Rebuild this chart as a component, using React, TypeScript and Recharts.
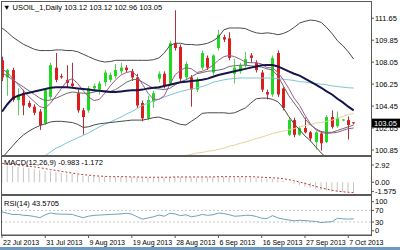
import { ComposedChart, Bar, Line, XAxis, YAxis, ReferenceLine } from "recharts";

// USOIL daily bars, 22 Jul 2013 .. 8 Oct 2013 (MT4 also prints Sunday bars)
const opens = [
  108.2, 106.8, 107.4, 104.95, 105.5, 104.7, 104.4, 104.0, 103.05, 105.2,
  107.6, 106.9, 106.6, 106.3, 105.5, 104.1, 104.1, 105.9, 105.8, 106.4,
  106.6, 106.9, 107.3, 107.6, 107.3, 106.8, 104.7, 103.45, 104.8, 106.7,
  107.1, 106.3, 109.6, 109.3, 106.8, 106.8, 105.8, 107.6, 108.4, 107.2,
  109.2, 110.1, 110.0, 107.1, 107.3, 107.8, 108.6, 108.0, 107.2, 105.6,
  105.4, 108.8, 105.9, 102.1, 103.3, 102.1, 102.65, 102.3, 101.5, 102.2,
  101.5, 103.55, 102.8, 103.3, 103.3, 103.12,
];
const highs = [
  108.5, 107.5, 107.6, 105.9, 105.8, 104.9, 104.6, 104.2, 105.9, 108.0,
  108.8, 107.1, 107.8, 108.0, 105.8, 104.3, 106.1, 106.3, 106.5, 107.4,
  107.2, 107.9, 108.0, 107.8, 107.5, 107.1, 104.9, 105.3, 105.7, 107.3,
  107.3, 109.8, 112.3, 109.5, 108.1, 107.0, 106.8, 109.0, 108.6, 108.7,
  110.7, 110.3, 110.5, 108.3, 108.0, 108.9, 108.8, 108.2, 107.4, 105.8,
  108.6, 109.0, 106.0, 103.5, 103.5, 102.8, 103.5, 102.4, 102.4, 102.4,
  103.7, 104.1, 104.0, 103.4, 103.6, 103.12,
];
const lows = [
  106.5, 105.3, 104.8, 103.7, 103.7, 104.3, 103.7, 102.5, 102.9, 105.0,
  106.4, 106.7, 106.0, 105.9, 103.9, 102.1, 103.9, 105.6, 105.4, 106.1,
  106.4, 106.7, 107.1, 107.2, 106.5, 104.3, 103.2, 103.3, 104.3, 106.4,
  105.9, 106.1, 109.0, 106.5, 106.6, 104.4, 105.6, 107.4, 107.4, 107.0,
  109.0, 109.7, 108.2, 106.3, 107.1, 107.6, 108.0, 107.2, 105.6, 105.0,
  105.2, 105.2, 104.1, 102.0, 101.9, 102.0, 102.2, 101.6, 100.9, 100.8,
  101.4, 102.6, 102.7, 103.2, 101.7, 102.96,
];
const closes = [
  106.8, 107.4, 104.95, 105.3, 104.5, 104.4, 103.9, 102.9, 105.8, 107.8,
  106.6, 106.8, 106.35, 106.1, 104.1, 103.55, 105.9, 106.1, 106.3, 107.2,
  107.0, 107.4, 107.6, 107.4, 106.8, 104.5, 103.45, 104.95, 105.5, 107.1,
  106.1, 109.6, 109.2, 106.7, 107.9, 105.8, 106.6, 108.8, 107.6, 108.6,
  110.3, 109.9, 108.4, 107.6, 107.8, 108.3, 108.4, 107.4, 105.8, 105.4,
  108.4, 105.4, 104.3, 103.3, 102.1, 102.65, 102.3, 101.8, 102.3, 101.4,
  103.55, 102.75, 103.5, 103.35, 102.9, 103.05,
];

const bbUpper = [
  110.85, 110.5, 110.1, 109.8, 109.5, 109.3, 109.1, 109.0, 109.0, 109.0,
  109.05, 109.05, 109.0, 109.0, 108.9, 108.7, 108.5, 108.3, 108.15, 108.06,
  108.1, 108.2, 108.2, 108.2, 108.2, 108.2, 108.2, 108.2, 108.25, 108.4,
  108.8, 109.4, 109.6, 109.6, 109.5, 109.5, 109.45, 109.5, 109.6, 109.8,
  110.1, 110.7, 110.85, 110.85, 110.85, 110.8, 110.6, 110.45, 110.4, 110.45,
  110.4, 110.3, 110.4, 110.6, 110.9, 111.25, 111.4, 111.5, 111.45, 111.3,
  110.9, 110.4, 109.8, 109.4, 108.9, 108.3,
];
const bbLower = [
  100.2, 100.7, 101.2, 101.7, 102.1, 102.4, 102.65, 102.85, 103.0, 103.15,
  103.2, 103.2, 103.15, 103.1, 102.95, 102.7, 102.75, 102.9, 103.0, 103.05,
  103.1, 103.15, 103.2, 103.25, 103.3, 103.3, 103.3, 103.4, 103.5, 103.55,
  103.4, 103.3, 103.1, 102.95, 102.9, 103.2, 103.5, 103.85, 103.9, 103.9,
  103.9, 103.9, 103.85, 103.9, 104.1, 104.3, 104.7, 105.05, 105.1, 105.1,
  105.0, 104.8, 104.3, 103.6, 103.0, 102.5, 102.0, 101.6, 101.1, 100.6,
  100.2, 99.9, 99.7, 99.5, 99.4, 99.3,
];
const maNavy = [
  104.0, 104.6, 105.1, 105.3, 105.45, 105.55, 105.65, 105.75, 105.85, 105.95,
  106.0, 106.0, 106.0, 105.95, 105.9, 105.85, 105.8, 105.75, 105.7, 105.65,
  105.6, 105.6, 105.65, 105.7, 105.75, 105.75, 105.8, 105.9, 105.95, 106.0,
  106.1, 106.2, 106.3, 106.4, 106.45, 106.5, 106.55, 106.6, 106.7, 106.85,
  107.0, 107.1, 107.2, 107.3, 107.4, 107.5, 107.6, 107.7, 107.8, 107.82,
  107.82, 107.7, 107.5, 107.3, 107.1, 106.95, 106.7, 106.45, 106.2, 105.95,
  105.65, 105.4, 105.05, 104.75, 104.4, 104.1,
];
const maTeal = [
  null, null, null, null, null, null, null, null, 100.4, 100.7,
  101.0, 101.2, 101.45, 101.65, 101.85, 102.05, 102.25, 102.5, 102.75, 102.95,
  103.15, 103.35, 103.55, 103.8, 104.0, 104.25, 104.5, 104.7, 104.85, 105.0,
  105.2, 105.35, 105.5, 105.65, 105.75, 105.85, 105.95, 106.05, 106.2, 106.4,
  106.5, 106.6, 106.67, 106.72, 106.75, 106.75, 106.75, 106.75, 106.75, 106.75,
  106.75, 106.7, 106.65, 106.6, 106.55, 106.45, 106.42, 106.35, 106.3, 106.25,
  106.2, 106.1, 106.05, 106.0, 105.95, 105.93,
];
const maTan = [
  null, null, null, null, null, null, null, null, null, null,
  null, null, null, null, null, null, null, null, null, null,
  null, null, null, null, null, null, null, null, null, null,
  null, null, null, 100.25, 100.4, 100.5, 100.6, 100.65, 100.75, 100.8,
  100.9, 101.0, 101.15, 101.25, 101.4, 101.5, 101.65, 101.8, 101.9, 102.05,
  102.2, 102.3, 102.4, 102.5, 102.6, 102.75, 102.85, 102.95, 103.05, 103.1,
  103.2, 103.3, 103.45, 103.6, 103.75, 103.85,
];
const maFast = [
  107.5, 107.2, 106.7, 106.2, 105.7, 105.2, 104.8, 104.4, 104.3, 104.7,
  105.3, 105.9, 106.5, 106.7, 106.3, 105.7, 105.2, 104.9, 105.0, 105.5,
  106.1, 106.6, 107.0, 107.2, 107.3, 106.9, 106.2, 105.5, 105.0, 105.0,
  105.3, 106.2, 107.0, 107.4, 107.6, 107.5, 107.2, 107.3, 107.5, 107.8,
  108.2, 108.5, 108.6, 108.5, 108.3, 108.05, 108.0, 108.0, 107.9, 107.6,
  107.6, 107.2, 106.6, 105.9, 105.1, 104.5, 103.7, 103.0, 102.5, 102.3,
  102.2, 102.25, 102.3, 102.45, 102.6, 102.65,
];
const maMid = [
  107.2, 106.9, 106.6, 106.3, 106.0, 105.7, 105.4, 105.1, 104.9, 104.95,
  105.1, 105.3, 105.5, 105.6, 105.55, 105.5, 105.5, 105.6, 105.7, 105.7,
  105.65, 105.8, 106.1, 106.4, 106.6, 106.65, 106.4, 106.15, 105.9, 105.85,
  105.8, 105.9, 106.2, 106.45, 106.6, 106.85, 107.1, 107.2, 107.3, 107.35,
  107.4, 107.5, 107.7, 107.75, 107.8, 107.8, 107.75, 107.7, 107.65, 107.5,
  107.4, 106.9, 106.1, 105.3, 104.7, 104.1, 103.4, 102.9, 102.6, 102.35,
  102.3, 102.3, 102.45, 102.6, 102.75, 102.9,
];

const macdMain = [
  2.9, 2.85, 2.75, 2.6, 2.5, 2.35, 2.2, 2.05, 1.9, 1.85,
  1.75, 1.6, 1.5, 1.4, 1.25, 1.1, 1.05, 1.0, 0.95, 0.95,
  0.9, 0.9, 0.9, 0.9, 0.85, 0.8, 0.75, 0.75, 0.75, 0.8,
  0.8, 0.85, 0.9, 0.85, 0.85, 0.8, 0.8, 0.85, 0.85, 0.9,
  0.95, 0.95, 0.9, 0.85, 0.85, 0.85, 0.85, 0.8, 0.7, 0.6,
  0.6, 0.45, 0.25, 0.0, -0.25, -0.5, -0.7, -0.9, -1.1, -1.3,
  -1.4, -1.5, -1.55, -1.6, -1.65, -1.7,
];
const macdSignal = [
  3.2, 3.1, 3.0, 2.9, 2.8, 2.7, 2.6, 2.45, 2.3, 2.15,
  2.0, 1.85, 1.7, 1.55, 1.4, 1.3, 1.2, 1.1, 1.05, 1.0,
  0.95, 0.95, 0.95, 0.95, 0.9, 0.9, 0.85, 0.85, 0.85, 0.85,
  0.85, 0.85, 0.9, 0.9, 0.9, 0.9, 0.9, 0.9, 0.9, 0.9,
  0.95, 0.95, 0.95, 0.95, 0.95, 0.95, 0.95, 0.9, 0.85, 0.8,
  0.75, 0.7, 0.6, 0.45, 0.25, 0.05, -0.2, -0.45, -0.7, -0.95,
  -1.15, -1.35, -1.5, -1.6, -1.7, -1.75,
];
const rsi = [
  65, 60, 56, 56, 53, 52, 49, 45, 55, 61,
  58, 57, 57, 56, 50, 45, 50, 53, 54, 55,
  56, 57, 58, 60, 57, 48, 40, 44, 48, 54,
  50, 60, 58, 52, 55, 48, 51, 56, 53, 55,
  61, 59, 55, 50, 51, 53, 53, 49, 43, 42,
  52, 44, 40, 37, 34, 36, 35, 33, 32, 28,
  30, 31, 43, 41, 40, 41,
];

const dateTicks = [0, 8, 16, 24, 32, 40, 48, 56, 64];
const dateLabels = [
  "22 Jul 2013", "31 Jul 2013", "9 Aug 2013", "19 Aug 2013", "28 Aug 2013",
  "6 Sep 2013", "16 Sep 2013", "27 Sep 2013", "7 Oct 2013",
];
const priceTicks = [100.85, 102.65, 104.45, 106.25, 108.05, 109.85, 111.65];
const macdTicks = [2.92, 0, -1.575];
const macdTickText = ["2.92", "0.00", "-1.575"];
const rsiTicks = [100, 70, 30, 0];

const rows = closes.map((c, i) => ({
  i,
  o: opens[i],
  h: highs[i],
  l: lows[i],
  c,
  range: [lows[i], highs[i]],
  bbUp: bbUpper[i],
  bbLo: bbLower[i],
  navy: maNavy[i],
  teal: maTeal[i],
  tan: maTan[i],
  fast: maFast[i],
  mid: maMid[i],
  macd: macdMain[i],
  signal: macdSignal[i],
  rsi: rsi[i],
}));

const FONT = "'Liberation Sans', Arial, sans-serif";
const xDomain: [number, number] = [0, 68.2];
const axisTick = { fontSize: 7.5, fill: "#000", fontFamily: FONT };

const Candle = (props: any) => {
  const { x, y, width, height, payload } = props;
  const { o, c, h, l } = payload;
  const up = c >= o;
  const top = Math.min(y, y + height);
  const hh = Math.abs(height);
  const cx = Math.round(x + width / 2) + 0.5;
  const k = h > l ? hh / (h - l) : 0;
  const bodyTop = top + (h - Math.max(o, c)) * k;
  const bodyH = Math.max(1, Math.abs(o - c) * k);
  return (
    <g>
      <line x1={cx} x2={cx} y1={top} y2={top + hh} stroke={up ? "#58d058" : "#b03040"} strokeWidth={1} />
      <rect x={cx - 1.5} y={bodyTop} width={3} height={bodyH} fill={up ? "#1fd81f" : "#dd1c1c"} />
    </g>
  );
};

const PriceBox = (props: any) => {
  const vb = props.viewBox;
  const x = vb.x + vb.width;
  return (
    <g>
      <rect x={x + 1} y={vb.y - 4.5} width={28} height={9} fill="#000" />
      <text x={x + 3} y={vb.y} dy="0.35em" fontSize={7.5} fill="#fff" fontFamily={FONT}>
        {closes[closes.length - 1].toFixed(2)}
      </text>
    </g>
  );
};

const DateTick = (props: any) => {
  const { x, y, payload } = props;
  const idx = dateTicks.indexOf(payload.value);
  return (
    <text x={x + 1} y={y + 6} fontSize={7} fill="#000" fontFamily={FONT} textAnchor="start">
      {dateLabels[idx]}
    </text>
  );
};

const line = (key: string, color: string, w = 1) => (
  <Line type="linear" dataKey={key} stroke={color} strokeWidth={w} dot={false} isAnimationActive={false} />
);

export default function App() {
  const box = (top: number, height: number) => (
    <div
      style={{
        position: "absolute",
        left: 1,
        top,
        width: 371,
        height,
        border: "1px solid #5a5a5a",
        boxSizing: "border-box",
        pointerEvents: "none",
      }}
    />
  );

  const label = { position: "absolute" as const, fontSize: 7.5, lineHeight: "10px", color: "#000", whiteSpace: "nowrap" as const };

  return (
    <div style={{ position: "relative", width: 400, height: 250, background: "#fff", overflow: "hidden", fontFamily: FONT }}>
      <style>{"body{margin:0}"}</style>

      <div style={{ position: "absolute", top: 0 }}>
        <ComposedChart width={400} height={155} data={rows} margin={{ top: 2, right: 0, bottom: 0, left: 2 }}>
          <XAxis type="number" dataKey="i" domain={xDomain} allowDataOverflow hide />
          <YAxis
            orientation="right"
            width={29}
            domain={[100.44, 112.98]}
            allowDataOverflow
            ticks={priceTicks}
            interval={0}
            tickFormatter={(v: number) => v.toFixed(2)}
            axisLine={false}
            tickSize={3}
            tickMargin={1}
            tick={axisTick}
            tickLine={{ stroke: "#555" }}
          />
          <Bar dataKey="range" barSize={3} shape={Candle} isAnimationActive={false} />
          {line("tan", "#e2d596")}
          {line("teal", "#7cc6d2")}
          {line("bbUp", "#4a4a4a")}
          {line("bbLo", "#4a4a4a")}
          {line("mid", "#6a6a6a")}
          {line("fast", "#9a5a8e")}
          {line("navy", "#15154a", 2)}
          <ReferenceLine y={103.05} stroke="none" label={PriceBox} />
        </ComposedChart>
      </div>

      <div style={{ position: "absolute", top: 157 }}>
        <ComposedChart width={400} height={45} data={rows} margin={{ top: 0, right: 0, bottom: 8, left: 2 }}>
          <XAxis type="number" dataKey="i" domain={xDomain} allowDataOverflow hide />
          <YAxis
            orientation="right"
            width={29}
            domain={[-1.98, 4.27]}
            allowDataOverflow
            ticks={macdTicks}
            interval={0}
            tickFormatter={(v: number) => macdTickText[macdTicks.indexOf(v)]}
            axisLine={false}
            tickSize={3}
            tickMargin={1}
            tick={axisTick}
            tickLine={{ stroke: "#555" }}
          />
          <Bar dataKey="macd" barSize={1} fill="#c4c4c4" isAnimationActive={false} />
          <Line type="linear" dataKey="signal" stroke="#c23a3a" strokeWidth={1} strokeDasharray="2 2" dot={false} isAnimationActive={false} />
        </ComposedChart>
      </div>

      <div style={{ position: "absolute", top: 196 }}>
        <ComposedChart width={400} height={54} data={rows} margin={{ top: 0, right: 0, bottom: 0, left: 2 }}>
          <XAxis
            type="number"
            dataKey="i"
            domain={xDomain}
            allowDataOverflow
            ticks={dateTicks}
            interval={0}
            height={15}
            tick={DateTick}
            tickSize={3}
            tickMargin={1}
            axisLine={{ stroke: "#555" }}
            tickLine={{ stroke: "#555" }}
          />
          <YAxis
            orientation="right"
            width={29}
            domain={[-14.8, 119.7]}
            allowDataOverflow
            ticks={rsiTicks}
            interval={0}
            axisLine={false}
            tickSize={3}
            tickMargin={1}
            tick={axisTick}
            tickLine={{ stroke: "#555" }}
          />
          <ReferenceLine y={70} stroke="#c8c8c8" strokeDasharray="2 2" />
          <ReferenceLine y={30} stroke="#c8c8c8" strokeDasharray="2 2" />
          {line("rsi", "#6fa2b6")}
        </ComposedChart>
      </div>

      {box(1, 155)}
      {box(156, 39)}
      {box(195, 41)}

      <div style={{ ...label, left: 3, top: 3 }}>▼ USOIL_1,Daily 103.12 103.12 102.96 103.05</div>
      <div style={{ ...label, left: 4, top: 158 }}>MACD(12,26,9) -0.983 -1.172</div>
      <div style={{ ...label, left: 4, top: 199 }}>RSI(14) 43.5705</div>
      <div style={{ position: "absolute", left: 0, top: 247, width: 400, height: 3, background: "#6d9ac4" }} />
    </div>
  );
}
